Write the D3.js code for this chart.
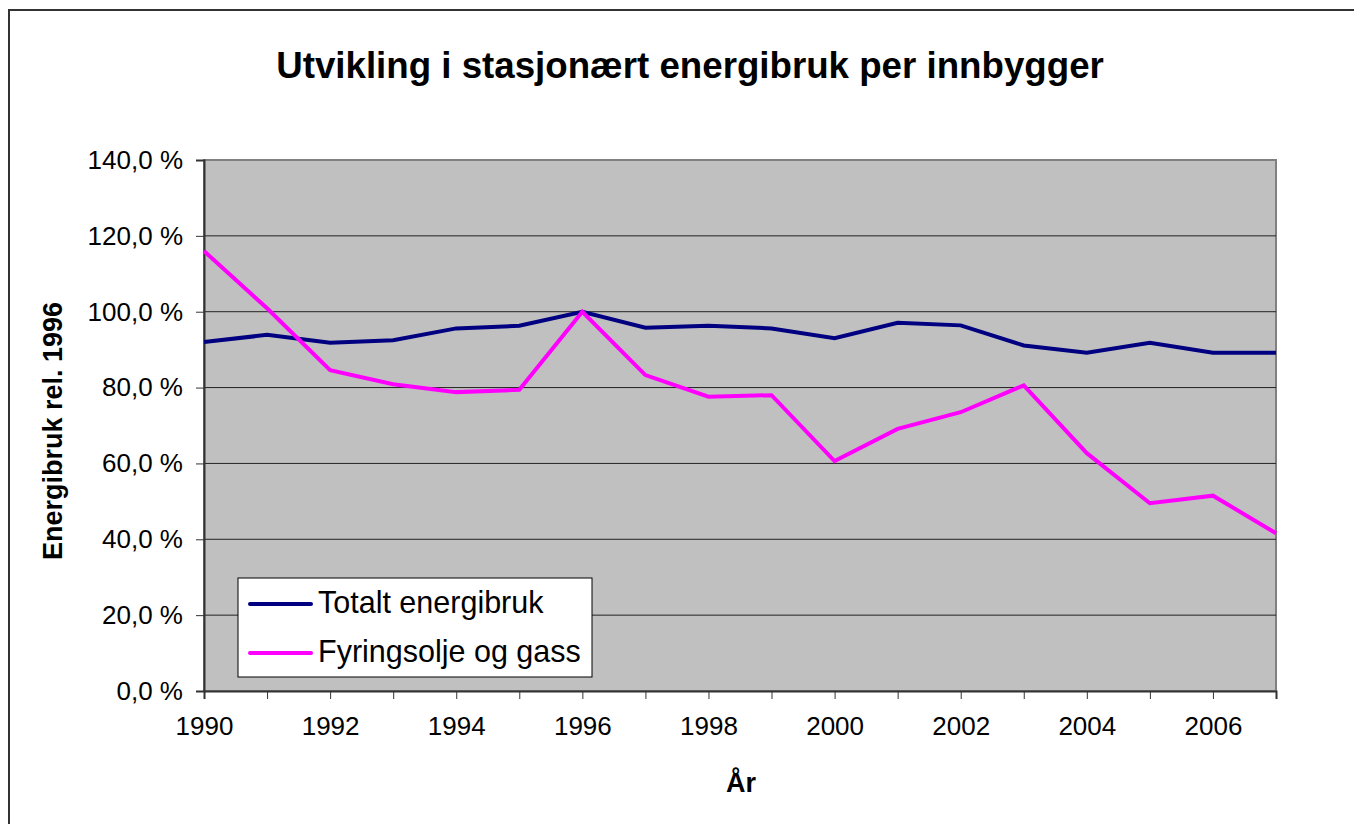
<!DOCTYPE html>
<html>
<head>
<meta charset="utf-8">
<script src="https://cdn.jsdelivr.net/npm/d3@7"></script>
<style>
  body { margin: 0; background: #fff; }
  svg { font-family: "Liberation Sans", Arial, sans-serif; }
</style>
</head>
<body>
<svg id="chart" width="1354" height="824"></svg>
<script>
var years = [1990, 1991, 1992, 1993, 1994, 1995, 1996, 1997, 1998, 1999, 2000, 2001, 2002, 2003, 2004, 2005, 2006, 2007];
var totalt = [92.0, 93.9, 91.8, 92.5, 95.6, 96.3, 100.0, 95.8, 96.3, 95.6, 93.0, 97.1, 96.4, 91.1, 89.2, 91.8, 89.2, 89.2];
var fyring = [116.0, 100.9, 84.6, 80.9, 78.8, 79.4, 100.0, 83.3, 77.6, 78.0, 60.6, 69.1, 73.5, 80.6, 62.7, 49.5, 51.5, 41.6];
var seriesNames = ["Totalt energibruk", "Fyringsolje og gass"];
var yTicks = [0, 20, 40, 60, 80, 100, 120, 140];
var xLabels = [1990, 1992, 1994, 1996, 1998, 2000, 2002, 2004, 2006];

var svg = d3.select("#chart"),
    margin = {top: 160, right: 78, bottom: 133, left: 204},
    width = 1354 - margin.left - margin.right,
    height = 824 - margin.top - margin.bottom;

// outer frame (runs off the right and bottom edge)
svg.append("rect")
    .attr("x", 9).attr("y", 10)
    .attr("width", 1400).attr("height", 900)
    .attr("fill", "none")
    .attr("stroke", "#333")
    .attr("stroke-width", 2);

svg.append("text")
    .attr("x", 690).attr("y", 78)
    .attr("text-anchor", "middle")
    .style("font-size", "36.7px")
    .style("font-weight", "bold")
    .text("Utvikling i stasjonært energibruk per innbygger");

var x = d3.scaleLinear().domain([1990, 2007]).range([0, width]);
var y = d3.scaleLinear().domain([0, 140]).range([height, 0]);

var g = svg.append("g")
    .attr("transform", "translate(" + margin.left + "," + margin.top + ")");

g.append("rect")
    .attr("width", width).attr("height", height)
    .attr("fill", "#c0c0c0")
    .attr("stroke", "#808080")
    .attr("stroke-width", 2);

// gridlines
g.selectAll(".grid")
    .data(yTicks.filter(function(d) { return d > 0 && d < 140; }))
  .enter().append("line")
    .attr("class", "grid")
    .attr("x1", 0).attr("x2", width)
    .attr("y1", function(d) { return y(d); })
    .attr("y2", function(d) { return y(d); })
    .attr("stroke", "#222")
    .attr("stroke-width", 1);

var fmt = function(d) { return d3.format(".1f")(d).replace(".", ",") + " %"; };

var yAxis = g.append("g")
    .call(d3.axisLeft(y).tickValues(yTicks).tickSize(8).tickPadding(13).tickFormat(fmt));
yAxis.select(".domain").attr("stroke", "#333").attr("stroke-width", 2);
yAxis.selectAll(".tick line").attr("stroke", "#333");
yAxis.selectAll("text").style("font-size", "26px").attr("fill", "#000")
    .attr("font-family", "Liberation Sans, Arial, sans-serif");

var xAxis = g.append("g")
    .attr("transform", "translate(0," + height + ")")
    .call(d3.axisBottom(x).tickValues(years).tickSize(8).tickPadding(18)
      .tickFormat(function(d) { return xLabels.indexOf(d) >= 0 ? d : ""; }));
xAxis.select(".domain").attr("stroke", "#333").attr("stroke-width", 2);
xAxis.selectAll(".tick line").attr("stroke", "#333");
xAxis.selectAll("text").style("font-size", "26px").attr("fill", "#000")
    .attr("font-family", "Liberation Sans, Arial, sans-serif");

var line = d3.line()
    .x(function(d, i) { return x(years[i]); })
    .y(function(d) { return y(d); });

g.append("path").datum(totalt)
    .attr("d", line).attr("fill", "none")
    .attr("stroke", "#000080").attr("stroke-width", 4);

g.append("path").datum(fyring)
    .attr("d", line).attr("fill", "none")
    .attr("stroke", "#ff00ff").attr("stroke-width", 4);

// axis titles
svg.append("text")
    .attr("transform", "translate(62,431) rotate(-90)")
    .attr("text-anchor", "middle")
    .style("font-size", "27px")
    .style("font-weight", "bold")
    .text("Energibruk rel. 1996");

svg.append("text")
    .attr("x", 741).attr("y", 792)
    .attr("text-anchor", "middle")
    .style("font-size", "27px")
    .style("font-weight", "bold")
    .text("År");

// legend
var legend = svg.append("g").attr("transform", "translate(238,578)");
legend.append("rect")
    .attr("width", 354).attr("height", 99)
    .attr("fill", "#fff").attr("stroke", "#000").attr("stroke-width", 1);

var colors = ["#000080", "#ff00ff"];
seriesNames.forEach(function(name, i) {
  var ly = 26 + i * 49;
  legend.append("line")
      .attr("x1", 12).attr("x2", 73)
      .attr("y1", ly).attr("y2", ly)
      .attr("stroke", colors[i]).attr("stroke-width", 4)
      .attr("stroke-linecap", "round");
  legend.append("text")
      .attr("x", 80).attr("y", ly + 9)
      .style("font-size", "30.5px")
      .text(name);
});
</script>
</body>
</html>
